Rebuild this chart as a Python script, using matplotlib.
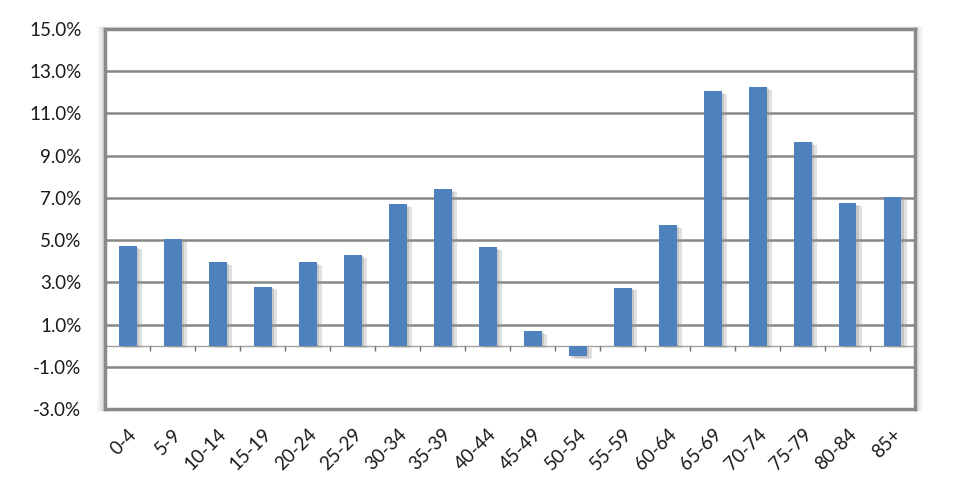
import matplotlib.pyplot as plt
import matplotlib.patheffects as pe
from matplotlib.patches import Rectangle
from matplotlib.ticker import FuncFormatter

# Age groups and growth rates (%)
age_groups = ['0-4', '5-9', '10-14', '15-19', '20-24', '25-29', '30-34', '35-39', '40-44',
              '45-49', '50-54', '55-59', '60-64', '65-69', '70-74', '75-79', '80-84', '85+']
growth = [4.7, 5.05, 3.95, 2.8, 3.95, 4.3, 6.7, 7.4, 4.65,
          0.7, -0.5, 2.75, 5.7, 12.05, 12.25, 9.65, 6.75, 7.05]
y_ticks = [-3, -1, 1, 3, 5, 7, 9, 11, 13, 15]

plt.rcParams['font.family'] = ['Lato', 'DejaVu Sans']

fig = plt.figure(figsize=(9.74, 4.78), dpi=100)
ax = fig.add_axes([105 / 974, 1 - 409 / 478, 810 / 974, 380 / 478])

# soft shadow around the plot area
for i, a in enumerate([0.06, 0.08, 0.10, 0.12]):
    d = (4 - i) * 2.0
    fig.patches.append(Rectangle(((105 - d) / 974, 1 - (409 + d * 0.4) / 478),
                                 (810 + 2 * d) / 974, (380 + d * 0.8) / 478,
                                 transform=fig.transFigure, facecolor='#808080',
                                 edgecolor='none', alpha=a, zorder=-5))

x = list(range(len(age_groups)))
bars = ax.bar(x, growth, width=0.4, color='#4f81bd', zorder=3)
for b in bars:
    b.set_path_effects([pe.SimplePatchShadow(offset=(4, -2), shadow_rgbFace='#9a9a9a', alpha=0.3),
                        pe.SimplePatchShadow(offset=(2, -1), shadow_rgbFace='#8a8a8a', alpha=0.3),
                        pe.Normal()])

ax.set_xlim(-0.5, len(age_groups) - 0.5)
ax.set_ylim(-3, 15)
ax.set_yticks(y_ticks)
ax.yaxis.set_major_formatter(FuncFormatter(lambda v, p: '%.1f%%' % v))
ax.grid(axis='y', color='#868686', linewidth=1.8, zorder=0)
ax.set_axisbelow(True)

# zero line with category separators
ax.axhline(0, color='#a0a0a0', linewidth=1, zorder=2)
ax.vlines([i - 0.5 for i in range(1, len(age_groups) + 1)], -0.25, 0, color='#707070', linewidth=1, zorder=2)

ax.set_xticks(x)
ax.set_xticklabels(age_groups, rotation=45, ha='right', rotation_mode='anchor')
ax.tick_params(axis='x', length=0, pad=12, labelsize=13.5, colors='#1a1a1a')
ax.tick_params(axis='y', length=0, pad=17, labelsize=13.5, colors='#1a1a1a')

for s in ax.spines.values():
    s.set_color('#8a8a8a')
    s.set_linewidth(2.5)

fig.savefig('out.png', dpi=100, facecolor='white')
